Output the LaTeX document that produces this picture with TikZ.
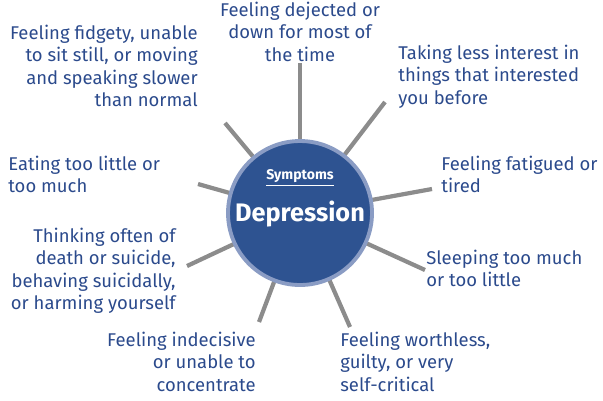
\documentclass[tikz,border=0pt]{standalone}
\usepackage{fontspec}
\setmainfont{Fira Sans}
\definecolor{inkblue}{HTML}{2B4A8C}
\definecolor{discblue}{HTML}{2E5391}
\definecolor{rimblue}{HTML}{8A9CC4}
\definecolor{spoke}{HTML}{8C8C8C}
\tikzset{
  spokeline/.style={draw=spoke,line width=2.4pt},
  symptom/.style={text=inkblue,font=\fontsize{10.5}{12.6}\selectfont,inner sep=0pt},
  symL/.style={symptom,anchor=north west,align=left},
  symR/.style={symptom,anchor=north east,align=right},
  symC/.style={symptom,anchor=north,align=center}
}
\begin{document}
\begin{tikzpicture}[x=0.2mm,y=-0.2mm]
\useasboundingbox (0,0) rectangle (603,400);
\coordinate (c) at (300,213);
% spokes
\coordinate (pTop) at (300,63);
\coordinate (pUR) at (385,102);
\coordinate (pR) at (432,189);
\coordinate (pLR) at (425,270);
\coordinate (pBR) at (350,327);
\coordinate (pBL) at (259,322);
\coordinate (pLL) at (187,266);
\coordinate (pL) at (198,184);
\coordinate (pUL) at (225,123);
\foreach \p in {pTop,pUR,pR,pLR,pBR,pBL,pLL,pL,pUL}
  \draw[spokeline] (c) -- (\p);
\node[circle,minimum size=28.8mm,fill=discblue,draw=rimblue,line width=2.2pt] (disc) at (c) {};
\node[text=white,font=\bfseries\footnotesize] (head) at (300,178) {\underline{Symptoms}};
\node[text=white,font=\bfseries\Large] (name) at (300,214) {Depression};
% texts
\node[symC] (tTop) at (300,2) {Feeling dejected or\\down for most of\\the time};
\node[symL] (tUR) at (398,45) {Taking less interest in\\things that interested\\you before};
\node[symL] (tR) at (441,156) {Feeling fatigued or\\tired};
\node[symL] (tLR) at (426,250) {Sleeping too much\\or too little};
\node[symL] (tBR) at (340,332) {Feeling worthless,\\guilty, or very\\self-critical};
\node[symR] (tBL) at (256,332) {Feeling indecisive\\or unable to\\concentrate};
\node[symR] (tLL) at (176,228) {Thinking often of\\death or suicide,\\behaving suicidally,\\or harming yourself};
\node[symL] (tL) at (8,156) {Eating too little or\\too much};
\node[symR] (tUL) at (198,25) {Feeling fidgety, unable\\to sit still, or moving\\and speaking slower\\than normal};
\end{tikzpicture}
\end{document}
